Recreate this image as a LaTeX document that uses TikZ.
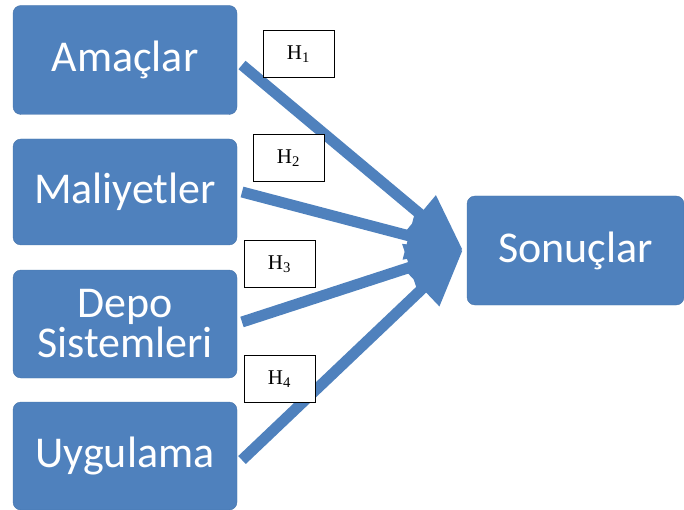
\documentclass[tikz,border=0pt]{standalone}
\usepackage{fontspec}
\setmainfont{Carlito}
\newfontfamily\hfont{Liberation Serif}
\usetikzlibrary{arrows.meta}
\definecolor{boxblue}{HTML}{4F81BD}
\tikzset{
  bluebox/.style={fill=boxblue, draw=boxblue!90!black, line width=0.4pt, rounded corners=8pt, text=white, font=\fontsize{44}{46}\selectfont, align=center, inner sep=0pt},
  hbox/.style={draw=black, line width=1pt, fill=white, minimum width=71pt, minimum height=47pt, inner sep=0pt, font=\hfont\fontsize{21}{22}\selectfont},
  bigarrow/.style={draw=boxblue, line width=11pt, -{Triangle[length=56pt, width=46pt]}}
}
\begin{document}
\begin{tikzpicture}[x=1pt, y=-1pt]
\useasboundingbox (0,0) rectangle (684,510);
\node[bluebox, minimum width=224pt, minimum height=109pt] (a) at (125,60) {Amaçlar};
\node[bluebox, minimum width=224pt, minimum height=106pt] (m) at (125,192) {Maliyetler};
\node[bluebox, minimum width=224pt, minimum height=108pt] (d) at (125,324) {Depo\\[-6pt]Sistemleri};
\node[bluebox, minimum width=224pt, minimum height=108pt] (u) at (125,456) {Uygulama};
\node[bluebox, minimum width=217pt, minimum height=109pt] (s) at (575.5,250.5) {Sonuçlar};
\coordinate (tip) at (463,250);
\coordinate (sa) at (242,65);
\coordinate (sm) at (242,192);
\coordinate (sd) at (242,322);
\coordinate (su) at (242,460);
\draw[bigarrow] (sa) -- (tip);
\draw[bigarrow] (sm) -- (tip);
\draw[bigarrow] (sd) -- (tip);
\draw[bigarrow] (su) -- (tip);
\node[hbox] (h1) at (298.5,54.5) {H\textsubscript{1}};
\node[hbox] (h2) at (288.5,158) {H\textsubscript{2}};
\node[hbox] (h3) at (279.5,264) {H\textsubscript{3}};
\node[hbox] (h4) at (279.5,379) {H\textsubscript{4}};
\end{tikzpicture}
\end{document}
